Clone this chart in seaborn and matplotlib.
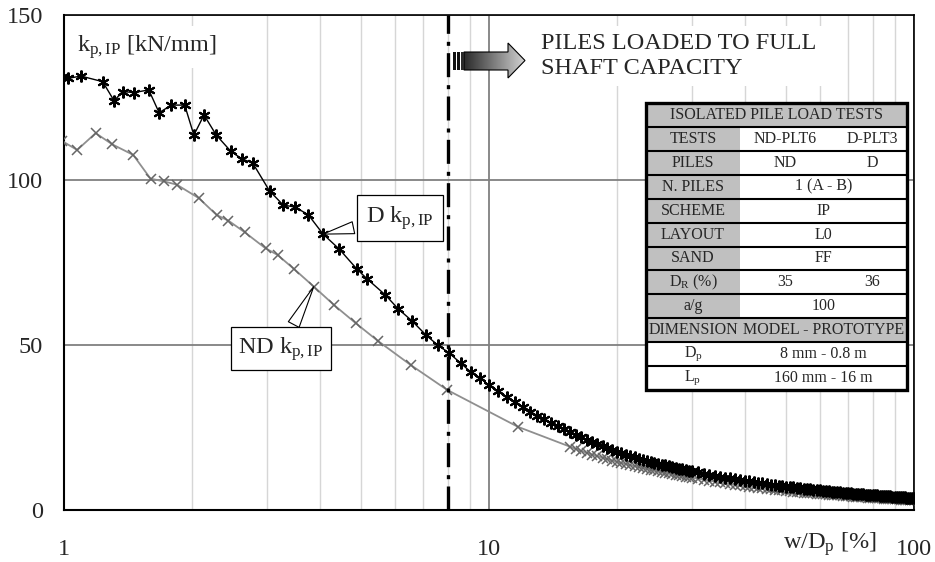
import numpy as np
import pandas as pd
import matplotlib
matplotlib.use("Agg")
import matplotlib.pyplot as plt
import seaborn as sns
from matplotlib.patches import Polygon, Rectangle
from matplotlib.colors import LinearSegmentedColormap
from matplotlib.ticker import NullFormatter, LogLocator

# ---------------- data ----------------
# D pile (black, asterisk markers) - sparse part before w/Dp = 10 %
d_w_sparse = [0.99, 1.023, 1.096, 1.233, 1.312, 1.373, 1.462, 1.583, 1.674, 1.790,
              1.923, 2.021, 2.135, 2.282, 2.465, 2.618, 2.778, 3.045, 3.28, 3.50,
              3.76, 4.07, 4.44, 4.89, 5.17, 5.70, 6.12, 6.59, 7.11, 7.57,
              8.05, 8.58, 9.06, 9.54]
d_k_sparse = [131.2, 130.8, 131.5, 129.8, 124.0, 126.8, 126.5, 127.3, 120.4, 122.7,
              122.7, 113.6, 119.7, 113.6, 108.8, 106.4, 105.2, 96.7, 92.4, 91.8,
              89.4, 83.6, 79.1, 73.0, 70.0, 65.2, 60.9, 57.3, 53.0, 50.0,
              47.6, 44.5, 41.8, 40.0]
# D pile - dense part
d_w_dense = [10, 10.5, 11, 11.5, 12, 12.5, 13, 13.5, 14, 14.5,
             15, 15.5, 16, 16.5, 17, 17.5, 18, 18.5, 19, 19.5,
             20, 20.5, 21, 21.5, 22, 22.5, 23, 23.5, 24, 24.5,
             25, 25.5, 26, 26.5, 27, 27.5, 28, 28.5, 29, 29.5,
             30, 31, 32, 33, 34, 35, 36, 37, 38, 39,
             40, 41, 42, 43, 44, 45, 46, 47, 48, 49,
             50, 51, 52, 53, 54, 55, 56, 57, 58, 59,
             60, 61, 62, 63, 64, 65, 66, 67, 68, 69,
             70, 71, 72, 73, 74, 75, 76, 77, 78, 79,
             80, 81, 82, 83, 84, 85, 86, 87, 88, 89,
             90, 91, 92, 93, 94, 95, 96, 97, 98, 99, 100]
d_k_dense = [37.8, 36.0, 34.2, 32.6, 31.1, 29.8, 28.6, 27.5, 26.4, 25.4,
             24.4, 23.6, 22.8, 22.0, 21.3, 20.6, 20.0, 19.4, 18.8, 18.2,
             17.7, 17.3, 16.8, 16.4, 16.0, 15.6, 15.3, 14.9, 14.6, 14.3,
             14.0, 13.7, 13.5, 13.2, 13.0, 12.7, 12.5, 12.3, 12.1, 11.9,
             11.7, 11.4, 11.0, 10.7, 10.4, 10.1, 9.8, 9.6, 9.3, 9.1,
             8.9, 8.7, 8.5, 8.3, 8.1, 7.9, 7.7, 7.6, 7.4, 7.3,
             7.1, 7.0, 6.9, 6.7, 6.6, 6.5, 6.4, 6.3, 6.2, 6.1,
             6.0, 5.9, 5.8, 5.7, 5.6, 5.5, 5.4, 5.35, 5.3, 5.2,
             5.1, 5.05, 5.0, 4.9, 4.85, 4.8, 4.7, 4.65, 4.6, 4.55,
             4.5, 4.45, 4.4, 4.35, 4.3, 4.2, 4.2, 4.1, 4.1, 4.05,
             4.0, 3.95, 3.9, 3.85, 3.8, 3.8, 3.75, 3.7, 3.65, 3.6, 3.6]

# ND pile (grey, x markers) - sparse part
nd_w_sparse = [0.99, 1.074, 1.187, 1.299, 1.455, 1.598, 1.716, 1.842, 2.076, 2.286,
               2.436, 2.660, 2.98, 3.18, 3.48, 3.87, 4.32, 4.86, 5.47, 6.55,
               7.97, 11.7]
nd_k_sparse = [111.8, 109.1, 114.2, 110.8, 107.6, 100.4, 99.6, 98.6, 94.5, 89.4,
               87.7, 84.2, 79.3, 77.3, 73.0, 67.7, 62.1, 56.6, 51.3, 43.9,
               36.4, 25.2]
# ND pile - dense part
nd_w_dense = [15.5, 16, 16.5, 17, 17.5, 18, 18.5, 19, 19.5, 20,
              20.5, 21, 21.5, 22, 22.5, 23, 23.5, 24, 24.5, 25,
              25.5, 26, 26.5, 27, 27.5, 28, 28.5, 29, 29.5, 30,
              31, 32, 33, 34, 35, 36, 37, 38, 39, 40,
              41, 42, 43, 44, 45, 46, 47, 48, 49, 50,
              51, 52, 53, 54, 55, 56, 57, 58, 59, 60,
              61, 62, 63, 64, 65, 66, 67, 68, 69, 70,
              71, 72, 73, 74, 75, 76, 77, 78, 79, 80,
              81, 82, 83, 84, 85, 86, 87, 88, 89, 90,
              91, 92, 93, 94, 95, 96, 97, 98, 99, 100]
nd_k_dense = [19.2, 18.5, 17.9, 17.3, 16.8, 16.3, 15.9, 15.4, 15.0, 14.6,
              14.3, 13.9, 13.6, 13.3, 13.0, 12.7, 12.5, 12.2, 12.0, 11.7,
              11.5, 11.3, 11.1, 10.9, 10.7, 10.5, 10.3, 10.1, 9.9, 9.8,
              9.5, 9.2, 8.9, 8.6, 8.4, 8.1, 7.9, 7.7, 7.5, 7.3,
              7.1, 7.0, 6.8, 6.7, 6.5, 6.4, 6.2, 6.1, 6.0, 5.9,
              5.75, 5.6, 5.5, 5.4, 5.3, 5.2, 5.15, 5.05, 5.0, 4.9,
              4.8, 4.7, 4.65, 4.6, 4.5, 4.45, 4.4, 4.3, 4.25, 4.2,
              4.1, 4.05, 4.0, 3.95, 3.9, 3.85, 3.8, 3.75, 3.7, 3.65,
              3.6, 3.55, 3.5, 3.5, 3.45, 3.4, 3.35, 3.3, 3.3, 3.25,
              3.2, 3.2, 3.15, 3.1, 3.1, 3.05, 3.0, 3.0, 2.95, 2.9]

x_ticks = [1, 10, 100]
x_tick_labels = ["1", "10", "100"]
y_ticks = [0, 50, 100, 150]
y_tick_labels = ["0", "50", "100", "150"]
full_capacity_w = 8

d_callout_point = (4.07, 83.6)
nd_callout_point = (3.87, 67.7)

table_rows = [
    ("ISOLATED PILE LOAD TESTS",),
    ("TESTS", "ND-PLT6", "D-PLT3"),
    ("PILES", "ND", "D"),
    ("N. PILES", "1 (A - B)"),
    ("SCHEME", "IP"),
    ("LAYOUT", "L0"),
    ("SAND", "FF"),
    ("D$_\\mathrm{R}$ (%)", "35", "36"),
    ("a/g", "100"),
    ("DIMENSION", "MODEL - PROTOTYPE"),
    ("D$_\\mathrm{p}$", "8 mm - 0.8 m"),
    ("L$_\\mathrm{p}$", "160 mm - 16 m"),
]
grey_rows = {0, 9}
white_label_rows = {10, 11}

# ---------------- style ----------------
sns.set_style("white")
plt.rcParams["font.family"] = ["Liberation Serif", "DejaVu Serif"]
plt.rcParams["mathtext.fontset"] = "custom"
plt.rcParams["mathtext.rm"] = "Liberation Serif"
plt.rcParams["mathtext.it"] = "Liberation Serif:italic"
plt.rcParams["mathtext.bf"] = "Liberation Serif:bold"

BIG = 17.5
W, H = 935, 562
fig = plt.figure(figsize=(W / 100, H / 100), dpi=100)
fig.patch.set_facecolor("white")

def fx(px):
    return px / W

def fy(py):
    return 1 - py / H

ax = fig.add_axes([fx(64), fy(510), (914 - 64) / W, (510 - 15) / H])
ax.set_xscale("log")
ax.set_xlim(1, 100)
ax.set_ylim(0, 150)

nd_df = pd.DataFrame({"w": nd_w_sparse + nd_w_dense, "k": nd_k_sparse + nd_k_dense})
d_df = pd.DataFrame({"w": d_w_sparse + d_w_dense, "k": d_k_sparse + d_k_dense})

sns.lineplot(data=nd_df, x="w", y="k", sort=False, estimator=None, ax=ax,
             color="#8f8f8f", lw=1.3, marker="x", markersize=7.5,
             markeredgewidth=1.1, markeredgecolor="#666666", zorder=3)
sns.lineplot(data=d_df, x="w", y="k", sort=False, estimator=None, ax=ax,
             color="black", lw=1.0, marker=(6, 2, 0), markersize=8.5,
             markeredgewidth=1.5, markeredgecolor="black", zorder=4)

ax.axvline(full_capacity_w, color="black", lw=2.4,
           dashes=(7.2, 2.2, 1.2, 2.4), zorder=5)

# grid
ax.set_axisbelow(True)
ax.xaxis.set_minor_locator(LogLocator(base=10, subs=np.arange(2, 10)))
ax.xaxis.set_minor_formatter(NullFormatter())
ax.grid(which="minor", axis="x", color="#d6d6d6", lw=1.0)
ax.grid(which="major", axis="both", color="#808080", lw=1.3)

ax.set_xticks(x_ticks)
ax.set_xticklabels(x_tick_labels)
ax.set_yticks(y_ticks)
ax.set_yticklabels(y_tick_labels)
ax.tick_params(axis="both", which="major", length=6, width=1.0, color="black",
               labelsize=BIG, direction="out")
ax.tick_params(axis="x", which="major", pad=15)
ax.tick_params(axis="y", which="major", pad=9)
ax.tick_params(which="minor", length=0)
ax.set_xlabel("")
ax.set_ylabel("")
for s in ax.spines.values():
    s.set_color("black")
    s.set_linewidth(1.2)
ax.spines["left"].set_linewidth(1.5)
ax.spines["bottom"].set_linewidth(1.5)

# axis titles
fig.text(fx(77), fy(47), r"k$_\mathrm{p,IP}$ [kN/mm]", ha="left", va="center",
         fontsize=BIG, bbox=dict(fc="white", ec="none", pad=5))
fig.text(fx(877), fy(544), r"w/D$_\mathrm{p}$ [%]", ha="right", va="center",
         fontsize=BIG)

# callouts
ax.annotate(r"D k$_\mathrm{p,IP}$", xy=d_callout_point, xytext=(6.16, 88.5),
            ha="center", va="center", fontsize=BIG, zorder=6,
            bbox=dict(boxstyle="square,pad=0.38", fc="white", ec="black", lw=0.9),
            arrowprops=dict(arrowstyle="wedge,tail_width=0.5,shrink_factor=0.5",
                            fc="white", ec="black", lw=0.8, shrinkB=0))
ax.annotate(r"ND k$_\mathrm{p,IP}$", xy=nd_callout_point, xytext=(3.24, 48.9),
            ha="center", va="center", fontsize=BIG, zorder=6,
            bbox=dict(boxstyle="square,pad=0.3", fc="white", ec="black", lw=0.9),
            arrowprops=dict(arrowstyle="wedge,tail_width=0.5,shrink_factor=0.5",
                            fc="white", ec="black", lw=0.8, shrinkB=0))

# text "piles loaded"
fig.text(fx(541), fy(56), "PILES LOADED TO FULL\nSHAFT CAPACITY", ha="left",
         va="center", fontsize=BIG, linespacing=1.3,
         bbox=dict(fc="white", ec="none", pad=5))

# gradient arrow
aax = fig.add_axes([fx(450), fy(82), (530 - 450) / W, (82 - 40) / H])
aax.set_xlim(450, 530)
aax.set_ylim(82, 40)
aax.axis("off")
poly_pts = [(464, 52), (508, 52), (508, 43), (525, 60.5), (508, 78), (508, 70), (464, 70)]
cmap = LinearSegmentedColormap.from_list("g", ["#2a2a2a", "#d2d2d2"])
grad = np.linspace(0, 1, 200).reshape(1, -1)
im = aax.imshow(grad, extent=(464, 525, 78, 43), cmap=cmap, aspect="auto",
                interpolation="bilinear")
arrow_poly = Polygon(poly_pts, closed=True, fc="none", ec="black", lw=0.8)
aax.add_patch(arrow_poly)
im.set_clip_path(arrow_poly)
for x0, x1, c in [(453, 456, "#111111"), (457, 460, "#111111"), (461, 463.5, "#2a2a2a")]:
    aax.add_patch(Rectangle((x0, 52), x1 - x0, 18, fc=c, ec="none"))

# table
tx0, tx1, ty0, ty1 = 646, 907, 103, 390
lab_x1 = 740
col_a, col_b = 785, 872
tax = fig.add_axes([fx(tx0), fy(ty1), (tx1 - tx0) / W, (ty1 - ty0) / H])
tax.set_xlim(tx0, tx1)
tax.set_ylim(ty1, ty0)
tax.axis("off")
rh = (ty1 - ty0) / len(table_rows)
grey = "#c0c0c0"
tfs = 11.5
tax.add_patch(Rectangle((tx0, ty0), tx1 - tx0, ty1 - ty0, fc="white", ec="none"))
for i, row in enumerate(table_rows):
    y0 = ty0 + i * rh
    yc = y0 + rh / 2
    if i in grey_rows:
        tax.add_patch(Rectangle((tx0, y0), tx1 - tx0, rh, fc=grey, ec="none"))
    elif i not in white_label_rows:
        tax.add_patch(Rectangle((tx0, y0), lab_x1 - tx0, rh, fc=grey, ec="none"))
    if len(row) == 1:
        tax.text((tx0 + tx1) / 2, yc, row[0], ha="center", va="center", fontsize=tfs)
    else:
        tax.text((tx0 + lab_x1) / 2, yc, row[0], ha="center", va="center", fontsize=tfs)
        if len(row) == 2:
            tax.text((lab_x1 + tx1) / 2, yc, row[1], ha="center", va="center", fontsize=tfs)
        else:
            tax.text(col_a, yc, row[1], ha="center", va="center", fontsize=tfs)
            tax.text(col_b, yc, row[2], ha="center", va="center", fontsize=tfs)
    if i > 0:
        tax.plot([tx0, tx1], [y0, y0], color="black", lw=1.5, solid_capstyle="butt")
tax.add_patch(Rectangle((tx0, ty0), tx1 - tx0, ty1 - ty0, fc="none", ec="black", lw=2.4,
                        clip_on=False))

fig.savefig("out.png", dpi=100, facecolor="white")
